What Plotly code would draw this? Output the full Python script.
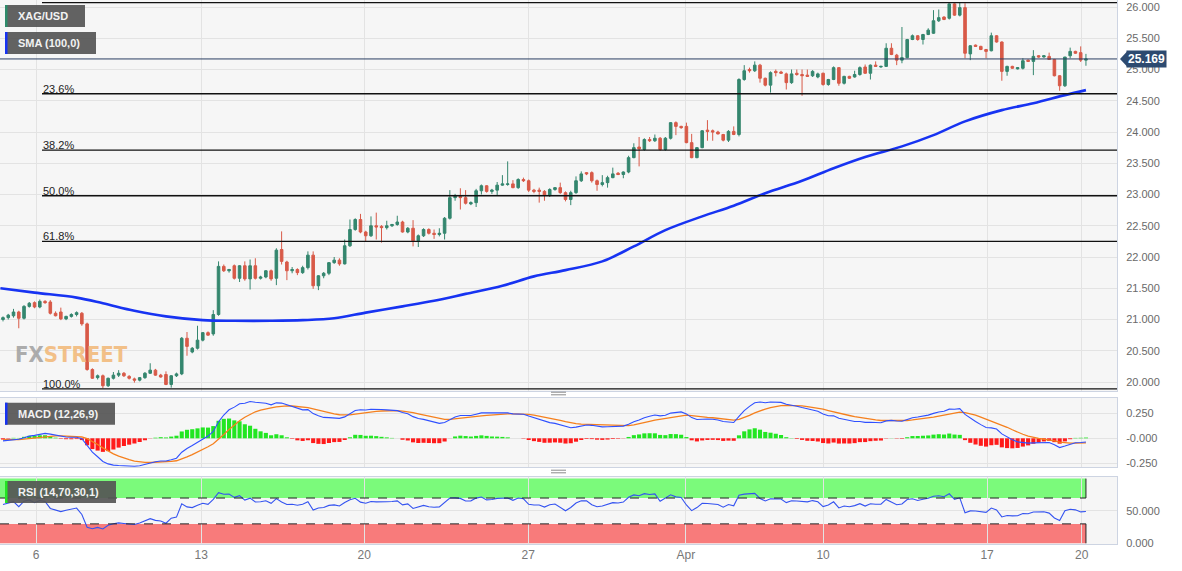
import plotly.graph_objects as go
from plotly.subplots import make_subplots

# ---------------- data ----------------
open_ = [21.00, 21.03, 21.06, 21.12, 21.02, 21.21, 21.27, 21.20, 21.29, 21.28,
         21.10, 21.12, 21.01, 21.05, 21.08, 21.10, 20.93, 20.20, 20.07, 20.10,
         19.94, 20.06, 20.11, 20.14, 20.09, 20.05, 20.03, 20.07, 20.14, 20.19,
         20.11, 20.12, 19.96, 20.10, 20.13, 20.70, 20.48, 20.54, 20.67, 20.79,
         20.77, 21.08, 21.85, 21.78, 21.86, 21.66, 21.86, 21.65, 21.86, 21.66,
         21.68, 21.78, 21.66, 22.12, 21.92, 21.78, 21.80, 21.75, 21.83, 22.03,
         21.54, 21.70, 21.74, 21.91, 21.95, 21.89, 22.18, 22.44, 22.60, 22.40,
         22.34, 22.50, 22.49, 22.47, 22.50, 22.52, 22.56, 22.40, 22.46, 22.26,
         22.34, 22.44, 22.38, 22.36, 22.38, 22.62, 22.95, 22.97, 22.95, 22.85,
         22.87, 23.06, 23.14, 23.05, 23.07, 23.15, 23.16, 23.17, 23.11, 23.24,
         23.22, 23.07, 23.07, 23.05, 22.99, 23.08, 23.11, 23.03, 22.92, 23.03,
         23.22, 23.35, 23.35, 23.22, 23.16, 23.19, 23.27, 23.34, 23.32, 23.36,
         23.59, 23.76, 23.72, 23.88, 23.86, 23.90, 23.72, 23.90, 24.15, 24.09,
         24.09, 23.83, 23.59, 23.75, 24.03, 24.02, 24.00, 23.96, 23.87, 24.01,
         23.96, 24.84, 25.00, 24.98, 25.07, 24.86, 24.75, 24.97, 24.96, 24.93,
         24.79, 24.94, 24.92, 24.91, 24.90, 24.88, 24.94, 24.76, 24.84, 25.03,
         24.78, 24.89, 24.88, 24.92, 25.04, 24.94, 25.07, 25.04, 25.05, 25.34,
         25.23, 25.15, 25.19, 25.48, 25.54, 25.48, 25.56, 25.58, 25.78, 25.84,
         25.82, 26.05, 25.87, 25.99, 25.25, 25.39, 25.37, 25.32, 25.30, 25.54,
         25.44, 24.97, 25.05, 25.01, 25.02, 25.15, 25.13, 25.22, 25.20, 25.21,
         25.16, 24.90, 24.74, 25.22, 25.29, 25.27, 25.15]
high = [21.05, 21.09, 21.17, 21.14, 21.23, 21.28, 21.29, 21.32, 21.31, 21.31,
        21.13, 21.19, 21.06, 21.10, 21.13, 21.12, 20.95, 20.22, 20.12, 20.12,
        20.07, 20.16, 20.19, 20.16, 20.11, 20.07, 20.08, 20.16, 20.30, 20.21,
        20.13, 20.17, 20.11, 20.15, 20.72, 20.80, 20.56, 20.90, 20.80, 20.81,
        21.15, 21.93, 21.88, 21.81, 21.88, 21.87, 21.93, 21.96, 21.98, 21.70,
        21.79, 21.80, 22.14, 22.41, 21.94, 21.84, 21.82, 21.86, 22.09, 22.09,
        21.71, 21.76, 21.92, 22.00, 21.98, 22.28, 22.60, 22.62, 22.69, 22.42,
        22.65, 22.71, 22.51, 22.58, 22.53, 22.66, 22.58, 22.48, 22.59, 22.36,
        22.46, 22.46, 22.44, 22.46, 22.64, 23.07, 23.01, 23.10, 23.07, 22.89,
        23.09, 23.16, 23.15, 23.09, 23.20, 23.31, 23.53, 23.23, 23.26, 23.27,
        23.24, 23.09, 23.11, 23.07, 23.10, 23.12, 23.19, 23.05, 23.06, 23.29,
        23.37, 23.36, 23.37, 23.24, 23.31, 23.30, 23.43, 23.36, 23.37, 23.62,
        23.82, 23.92, 23.90, 23.92, 23.96, 23.92, 23.92, 24.16, 24.17, 24.10,
        24.15, 23.97, 23.76, 24.03, 24.19, 24.04, 24.02, 23.97, 24.03, 24.09,
        24.86, 25.07, 25.03, 25.13, 25.09, 24.87, 24.97, 25.00, 24.98, 24.95,
        25.00, 25.00, 25.00, 25.00, 24.99, 24.95, 24.95, 24.85, 25.05, 25.04,
        24.90, 24.90, 24.98, 25.05, 25.08, 25.08, 25.13, 25.06, 25.42, 25.42,
        25.25, 25.68, 25.49, 25.56, 25.55, 25.57, 25.66, 25.95, 25.96, 25.85,
        26.06, 26.06, 26.07, 26.06, 25.39, 25.40, 25.38, 25.33, 25.59, 25.55,
        25.45, 25.06, 25.06, 25.04, 25.18, 25.16, 25.31, 25.23, 25.23, 25.27,
        25.17, 24.91, 25.20, 25.35, 25.30, 25.37, 25.25]
low = [20.97, 21.00, 21.03, 20.86, 21.00, 21.19, 21.18, 21.18, 21.25, 21.08,
       21.05, 20.99, 20.99, 21.03, 21.05, 20.90, 20.18, 20.05, 20.04, 19.90,
       19.92, 20.04, 20.08, 20.08, 20.04, 19.99, 20.01, 20.05, 20.13, 20.10,
       20.07, 19.95, 19.91, 20.08, 20.11, 20.42, 20.46, 20.52, 20.65, 20.74,
       20.74, 21.06, 21.76, 21.75, 21.64, 21.60, 21.62, 21.48, 21.64, 21.64,
       21.66, 21.62, 21.55, 21.88, 21.63, 21.74, 21.71, 21.73, 21.80, 21.49,
       21.47, 21.66, 21.71, 21.89, 21.86, 21.88, 22.16, 22.42, 22.38, 22.24,
       22.32, 22.28, 22.23, 22.44, 22.48, 22.50, 22.39, 22.38, 22.17, 22.16,
       22.32, 22.36, 22.29, 22.33, 22.28, 22.60, 22.90, 22.76, 22.84, 22.83,
       22.80, 23.00, 23.03, 23.01, 22.98, 23.14, 23.14, 23.10, 23.09, 23.20,
       23.04, 23.02, 22.87, 22.90, 22.96, 23.06, 23.01, 22.89, 22.83, 23.01,
       23.20, 23.31, 23.19, 23.06, 23.13, 23.11, 23.26, 23.31, 23.26, 23.34,
       23.58, 23.45, 23.70, 23.84, 23.84, 23.70, 23.70, 23.88, 23.95, 24.05,
       23.82, 23.58, 23.58, 23.74, 23.86, 23.86, 23.96, 23.85, 23.84, 23.95,
       23.93, 24.82, 24.95, 24.96, 24.79, 24.73, 24.63, 24.89, 24.93, 24.68,
       24.77, 24.90, 24.58, 24.88, 24.88, 24.86, 24.74, 24.74, 24.83, 24.74,
       24.76, 24.85, 24.87, 24.90, 24.93, 24.84, 25.04, 25.03, 25.04, 25.23,
       25.07, 25.10, 25.18, 25.47, 25.46, 25.40, 25.55, 25.57, 25.76, 25.79,
       25.80, 25.86, 25.85, 25.18, 25.15, 25.36, 25.31, 25.18, 25.29, 25.43,
       24.82, 24.90, 25.01, 25.00, 25.00, 25.12, 24.91, 25.19, 25.19, 25.16,
       24.89, 24.66, 24.72, 25.18, 25.25, 25.12, 25.06]
close = [21.03, 21.07, 21.12, 21.02, 21.21, 21.26, 21.20, 21.29, 21.27, 21.10,
         21.06, 21.01, 21.05, 21.08, 21.11, 20.93, 20.20, 20.06, 20.10, 19.94,
         20.06, 20.11, 20.14, 20.10, 20.06, 20.03, 20.07, 20.14, 20.19, 20.11,
         20.08, 19.96, 20.10, 20.13, 20.70, 20.57, 20.54, 20.67, 20.79, 20.75,
         21.08, 21.85, 21.78, 21.80, 21.66, 21.86, 21.65, 21.86, 21.66, 21.68,
         21.78, 21.65, 22.11, 21.93, 21.78, 21.80, 21.75, 21.83, 22.03, 21.54,
         21.70, 21.74, 21.91, 21.95, 21.89, 22.18, 22.44, 22.60, 22.40, 22.34,
         22.50, 22.48, 22.47, 22.50, 22.52, 22.56, 22.40, 22.46, 22.26, 22.34,
         22.44, 22.38, 22.36, 22.38, 22.62, 22.95, 22.97, 22.95, 22.86, 22.87,
         23.06, 23.14, 23.05, 23.07, 23.15, 23.17, 23.17, 23.11, 23.24, 23.22,
         23.07, 23.05, 23.05, 22.99, 23.08, 23.11, 23.03, 22.92, 23.03, 23.22,
         23.33, 23.33, 23.22, 23.16, 23.19, 23.27, 23.33, 23.32, 23.36, 23.59,
         23.75, 23.73, 23.88, 23.86, 23.90, 23.72, 23.90, 24.15, 24.09, 24.07,
         23.83, 23.59, 23.75, 24.02, 24.01, 24.00, 23.97, 23.87, 24.01, 23.96,
         24.84, 24.98, 24.98, 25.07, 24.86, 24.75, 24.95, 24.95, 24.94, 24.79,
         24.93, 24.92, 24.90, 24.89, 24.97, 24.93, 24.76, 24.84, 25.03, 24.78,
         24.89, 24.86, 24.92, 25.03, 24.94, 25.07, 25.05, 25.05, 25.34, 25.24,
         25.15, 25.19, 25.48, 25.54, 25.48, 25.56, 25.63, 25.78, 25.83, 25.80,
         26.05, 25.87, 25.99, 25.26, 25.38, 25.37, 25.32, 25.29, 25.54, 25.44,
         24.97, 25.05, 25.02, 25.03, 25.14, 25.13, 25.21, 25.20, 25.22, 25.16,
         24.90, 24.74, 25.20, 25.29, 25.26, 25.15, 25.169]

# SMA(100) (candle index, value)
sma_idx = [-0.5, 6, 14, 19, 25, 31, 38, 44, 51, 57, 63, 69, 76, 82, 88, 95, 101,
           107, 114, 120, 126, 133, 139, 145, 152, 158, 164, 171, 177, 183, 190,
           196, 202, 206]
sma_val = [21.50, 21.43, 21.35, 21.26, 21.14, 21.05, 20.99, 20.98, 20.98, 20.99,
           21.02, 21.11, 21.21, 21.30, 21.41, 21.54, 21.69, 21.79, 21.93, 22.17,
           22.43, 22.65, 22.82, 23.02, 23.22, 23.42, 23.60, 23.77, 23.95, 24.17,
           24.35, 24.46, 24.59, 24.67]

# x-axis day labels and their candle positions
tick_pos = [6.3, 37.7, 68.7, 99.9, 129.9, 156.0, 187.2, 205.2]
tick_text = ["6", "13", "20", "27", "Apr", "10", "17", "20"]

# Fibonacci retracement
fib_high = 26.07
fib_low = 19.89
fib_ratios = [0.0, 0.236, 0.382, 0.5, 0.618, 1.0]
fib_labels = ["", "23.6%", "38.2%", "50.0%", "61.8%", "100.0%"]

last_price = 25.169

# indicator settings / warm-up state carried in from before the window
EMA_FAST, EMA_SLOW, EMA_SIG, RSI_N = 12, 26, 9, 14
ema_fast_seed, ema_slow_seed, signal_seed = 21.00, 21.03, -0.01
rsi_gain_seed, rsi_loss_seed = 0.035, 0.025

# ---------------- indicators ----------------
def ema(values, period, seed):
    k = 2.0 / (period + 1)
    e = seed
    out = []
    for v in values:
        e = e + k * (v - e)
        out.append(e)
    return out

ef = ema(close, EMA_FAST, ema_fast_seed)
es = ema(close, EMA_SLOW, ema_slow_seed)
macd = [a - b for a, b in zip(ef, es)]
signal = ema(macd, EMA_SIG, signal_seed)
hist = [m - s for m, s in zip(macd, signal)]

rsi = []
ag, al = rsi_gain_seed, rsi_loss_seed
for i, c in enumerate(close):
    ch = c - (close[i - 1] if i > 0 else open_[0])
    ag = (ag * (RSI_N - 1) + max(ch, 0)) / RSI_N
    al = (al * (RSI_N - 1) + max(-ch, 0)) / RSI_N
    rsi.append(100 - 100 / (1 + ag / al) if al > 0 else 100)

# ---------------- geometry ----------------
W, H = 1182, 571
ML, MR, MT, MB = 0, 65, 0, 27
PW, PH = W - ML - MR, H - MT - MB
X0_PX, STEP_PX = 3.0, 5.257


def xi(xp):
    return (xp - X0_PX) / STEP_PX


def dom(top, bot):
    return [1 - bot / PH, 1 - top / PH]


def ppx(xp):
    return xp / PW


def ppy(yp):
    return 1 - yp / PH


xr = [xi(0), xi(PW)]
idx = list(range(len(close)))

GREEN = "#34866e"
RED = "#d85a48"
GRID = "#e3e3e3"
BORDER = "#cdd4e2"
BG = "#f6f6f6"
FONT = "Liberation Sans, Arial, sans-serif"

fig = make_subplots(rows=3, cols=1, shared_xaxes=True, vertical_spacing=0.01)

fig.add_trace(go.Candlestick(
    x=idx, open=open_, high=high, low=low, close=close,
    increasing=dict(line=dict(color=GREEN, width=1), fillcolor=GREEN),
    decreasing=dict(line=dict(color=RED, width=1), fillcolor=RED),
    whiskerwidth=0, showlegend=False, hoverinfo="skip"), row=1, col=1)

fig.add_trace(go.Scatter(x=sma_idx, y=sma_val, mode="lines", line_shape="spline",
                         line=dict(color="#1733f2", width=2.6),
                         showlegend=False, hoverinfo="skip"), row=1, col=1)

fig.add_trace(go.Bar(x=idx, y=hist,
                     marker=dict(color=["#22e622" if h >= 0 else "#ff1a1a" for h in hist],
                                 line=dict(width=0)),
                     showlegend=False, hoverinfo="skip"), row=2, col=1)
fig.add_trace(go.Scatter(x=idx, y=signal, mode="lines",
                         line=dict(color="#f5801e", width=1.3),
                         showlegend=False, hoverinfo="skip"), row=2, col=1)
fig.add_trace(go.Scatter(x=idx, y=macd, mode="lines",
                         line=dict(color="#2f50ff", width=1.1),
                         showlegend=False, hoverinfo="skip"), row=2, col=1)

# RSI zones
last_x = idx[-1]
fig.add_shape(type="rect", x0=xr[0], x1=last_x, y0=70, y1=100, fillcolor="#7bfa7b",
              line=dict(width=0), layer="below", row=3, col=1)
fig.add_shape(type="rect", x0=xr[0], x1=last_x, y0=0, y1=30, fillcolor="#f87b7b",
              line=dict(width=0), layer="below", row=3, col=1)
for yv in (70, 30):
    fig.add_shape(type="line", x0=xr[0], x1=last_x, y0=yv, y1=yv,
                  line=dict(color="#222", width=1, dash="dash"), row=3, col=1)
for (a, b) in ((70, 100), (0, 30)):
    fig.add_shape(type="line", x0=last_x, x1=last_x, y0=a, y1=b,
                  line=dict(color="#222", width=1), row=3, col=1)

fig.add_trace(go.Scatter(x=idx, y=rsi, mode="lines",
                         line=dict(color="#3453f0", width=1.1),
                         showlegend=False, hoverinfo="skip"), row=3, col=1)

# Fibonacci lines
for r, lab in zip(fib_ratios, fib_labels):
    lvl = fib_high - r * (fib_high - fib_low)
    fig.add_shape(type="line", x0=xi(42), x1=xr[1], y0=lvl, y1=lvl,
                  line=dict(color="#111", width=1.4), row=1, col=1)
    if lab:
        fig.add_annotation(x=xi(41), y=lvl, text=lab, showarrow=False,
                           xanchor="left", yanchor="bottom", yshift=-3,
                           font=dict(size=11, color="#222", family=FONT),
                           row=1, col=1)

# current price line + tag
fig.add_shape(type="line", x0=xr[0], x1=xr[1], y0=last_price, y1=last_price,
              line=dict(color="#2b3f63", width=1), row=1, col=1)
TAG = "#2d4a70"
fig.add_shape(type="path", xref="paper", yref="y",
              path=f"M {ppx(1120)} {last_price} L {ppx(1127)} {last_price + 0.12} "
                   f"L {ppx(1127)} {last_price - 0.12} Z",
              fillcolor=TAG, line=dict(width=0))
fig.add_annotation(xref="paper", yref="y", x=ppx(1126), y=last_price,
                   text=f"<b>{last_price:.3f}</b>", showarrow=False,
                   xanchor="left", yanchor="middle", bgcolor=TAG, borderpad=1,
                   font=dict(size=12, color="white", family=FONT))

# pane labels
def pane_label(y0, y1, w, accent, text):
    fig.add_shape(type="rect", xref="paper", yref="paper", x0=ppx(5), x1=ppx(w),
                  y0=ppy(y1), y1=ppy(y0), fillcolor="rgba(85,85,85,0.92)",
                  line=dict(width=0), layer="above")
    fig.add_shape(type="rect", xref="paper", yref="paper", x0=ppx(5), x1=ppx(7.5),
                  y0=ppy(y1), y1=ppy(y0), fillcolor=accent,
                  line=dict(width=0), layer="above")
    fig.add_annotation(xref="paper", yref="paper", x=ppx(16), y=ppy((y0 + y1) / 2),
                       text=f"<b>{text}</b>", showarrow=False, xanchor="left",
                       yanchor="middle", font=dict(size=11, color="#f2f2f2", family=FONT))


pane_label(5, 27, 85, "#2e8b6a", "XAG/USD")
pane_label(32, 54, 96, "#1733f2", "SMA (100,0)")
pane_label(402.7, 424.7, 115, "#1733f2", "MACD (12,26,9)")
pane_label(481, 503, 116, "#22e622", "RSI (14,70,30,1)")

# watermark
fig.add_annotation(xref="paper", yref="paper", x=ppx(13), y=ppy(354),
                   text='<b><span style="color:#a0a0a0">FX</span>'
                        '<span style="color:#f2b775">STREET</span></b>',
                   showarrow=False, xanchor="left", yanchor="middle", opacity=0.85,
                   font=dict(size=22, family="DejaVu Sans Condensed, Liberation Sans Narrow, sans-serif"))

# pane separators (handles)
for yy in (393.5, 471.5):
    for d in (-1.3, 1.3):
        fig.add_shape(type="line", xref="paper", yref="paper", x0=ppx(551), x1=ppx(566),
                      y0=ppy(yy + d), y1=ppy(yy + d), line=dict(color="#8a8a8a", width=1))

axis_common = dict(showline=True, linecolor=BORDER, linewidth=1, mirror=True,
                   gridcolor=GRID, gridwidth=1, zeroline=False)

for k in (1, 2, 3):
    fig.update_xaxes(range=xr, tickvals=tick_pos, ticktext=tick_text, showgrid=True,
                     ticks="", **axis_common, row=k, col=1)
fig.update_xaxes(showticklabels=False, row=1, col=1)
fig.update_xaxes(showticklabels=False, row=2, col=1)
fig.update_xaxes(showticklabels=True, tickfont=dict(size=12, color="#777", family=FONT),
                 row=3, col=1)
fig.update_layout(xaxis_rangeslider_visible=False)

ytick = dict(side="right", ticks="outside", ticklen=6, tickcolor="rgba(0,0,0,0)",
             tickfont=dict(size=11, color="#6a6a6a", family=FONT))
fig.update_yaxes(range=[19.856, 26.112], dtick=0.5, tick0=20, tickformat=".3f",
                 **ytick, **axis_common, row=1, col=1)
fig.update_yaxes(range=[-0.287, 0.403], tickvals=[0.25, 0.0, -0.25],
                 ticktext=["0.250", "-0.000", "-0.250"], **ytick, **axis_common, row=2, col=1)
fig.update_yaxes(range=[-1.1, 102.5], tickvals=[0, 50], ticktext=["0.000", "50.000"],
                 **ytick, **axis_common, row=3, col=1)

fig.update_layout(
    width=W, height=H, margin=dict(l=ML, r=MR, t=MT, b=MB),
    paper_bgcolor="white", plot_bgcolor=BG, bargap=0.22,
    yaxis=dict(domain=dom(0, 391)),
    yaxis2=dict(domain=dom(398, 467)),
    yaxis3=dict(domain=dom(477, 544)),
    font=dict(family=FONT),
    showlegend=False,
)

fig.write_html("out.html",
               config={"displayModeBar": False, "staticPlot": True},
               post_script="document.body.style.margin='0px';document.body.style.padding='0px';")
